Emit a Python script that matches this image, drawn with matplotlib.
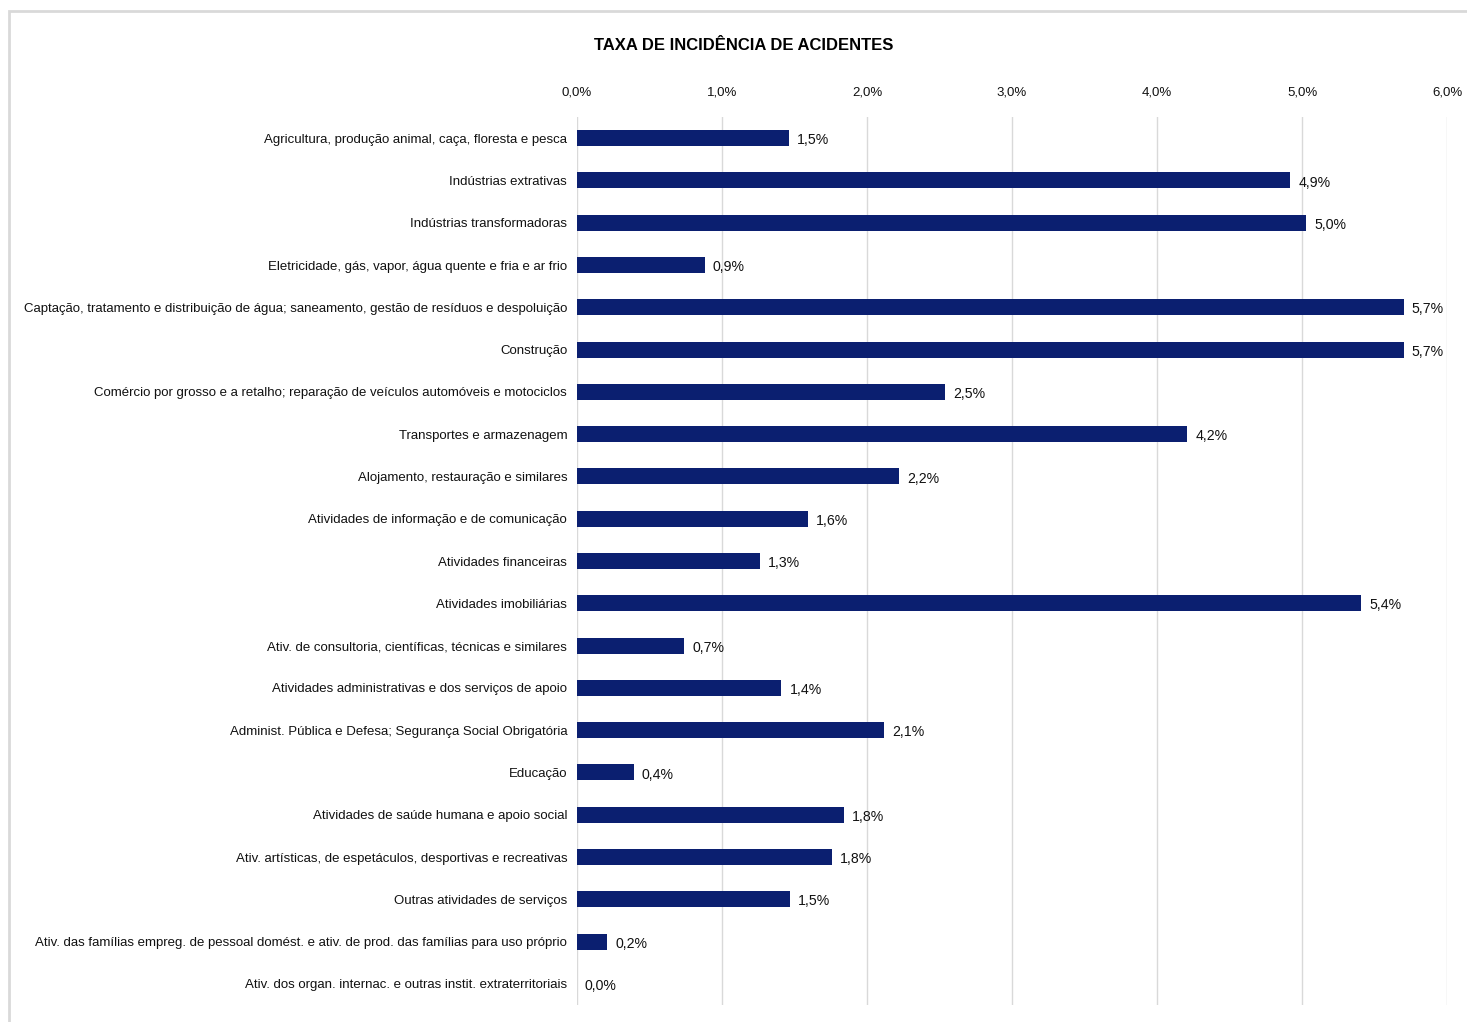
import matplotlib.pyplot as plt
from matplotlib.patches import Rectangle
from matplotlib.ticker import FuncFormatter

plt.rcParams['font.family'] = ['Liberation Sans', 'DejaVu Sans']

setores = [
    "Agricultura, produção animal, caça, floresta e pesca",
    "Indústrias extrativas",
    "Indústrias transformadoras",
    "Eletricidade, gás, vapor, água quente e fria e ar frio",
    "Captação, tratamento e distribuição de água; saneamento, gestão de resíduos e despoluição",
    "Construção",
    "Comércio por grosso e a retalho; reparação de veículos automóveis e motociclos",
    "Transportes e armazenagem",
    "Alojamento, restauração e similares",
    "Atividades de informação e de comunicação",
    "Atividades financeiras",
    "Atividades imobiliárias",
    "Ativ. de consultoria, científicas, técnicas e similares",
    "Atividades administrativas e dos serviços de apoio",
    "Administ. Pública e Defesa; Segurança Social Obrigatória",
    "Educação",
    "Atividades de saúde humana e apoio social",
    "Ativ. artísticas, de espetáculos, desportivas e recreativas",
    "Outras atividades de serviços",
    "Ativ. das famílias empreg. de pessoal domést. e ativ. de prod. das famílias para uso próprio",
    "Ativ. dos organ. internac. e outras instit. extraterritoriais",
]
taxa = [1.46, 4.92, 5.03, 0.88, 5.70, 5.70, 2.54, 4.21, 2.22, 1.59, 1.26,
        5.41, 0.74, 1.41, 2.12, 0.39, 1.84, 1.76, 1.47, 0.21, 0.0]

cor = '#0b1f70'

fig = plt.figure(figsize=(14.67, 10.22), dpi=100)
ax = fig.add_axes([0.3933, 0.0166, 0.5931, 0.8689])

pos = list(range(len(setores)))
ax.barh(pos, taxa, height=0.38, color=cor, zorder=3)
for p, v in zip(pos, taxa):
    ax.text(v + 0.055, p + 0.05, f"{v:.1f}%".replace('.', ','), va='center', ha='left',
            fontsize=10.2, color='#111111')

ax.set_ylim(len(setores) - 0.5, -0.5)
ax.set_xlim(0, 6.0)
ax.set_xticks([0, 1, 2, 3, 4, 5, 6])
ax.xaxis.set_major_formatter(FuncFormatter(lambda x, _: f"{x:.1f}%".replace('.', ',')))
ax.xaxis.tick_top()
ax.tick_params(axis='x', length=0, pad=13, labelsize=9.5, labelcolor='#111111')
ax.tick_params(axis='y', length=0, pad=7, labelsize=9.5, labelcolor='#111111')
ax.set_yticks(pos)
ax.set_yticklabels(setores)
ax.grid(axis='x', color='#d9d9d9', lw=1, zorder=0)
for s in ax.spines.values():
    s.set_visible(False)

fig.text(0.507, 0.955, "TAXA DE INCIDÊNCIA DE ACIDENTES", ha='center', va='center',
         fontsize=12, fontweight='bold')

fig.patches.append(Rectangle((9 / 1467, -0.1), 1.2, 1.1 - 11 / 1022, transform=fig.transFigure,
                             fill=False, edgecolor='#d9d9d9', lw=2))

fig.savefig("out.png", dpi=100)
